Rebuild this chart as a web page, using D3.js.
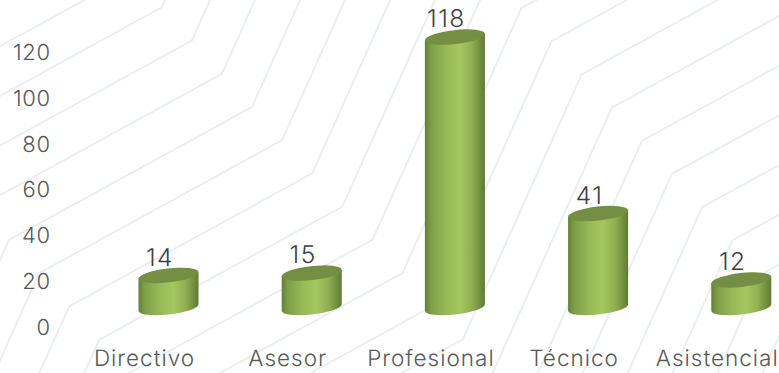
<!DOCTYPE html>
<html>
<head>
<meta charset="utf-8">
<style>
  html, body { margin: 0; padding: 0; background: #fff; }
  svg { display: block; }
  text { font-family: "Inter", "Open Sans", sans-serif; font-weight: 300; text-rendering: geometricPrecision; }
  .labels { opacity: 0.995; }
</style>
<script src="https://cdn.jsdelivr.net/npm/d3@7/dist/d3.min.js"></script>
</head>
<body>
<svg id="chart" width="779" height="373"></svg>
<script>
const categories = ["Directivo", "Asesor", "Profesional", "Técnico", "Asistencial"];
const counts = [14, 15, 118, 41, 12];
const yTicks = [0, 20, 40, 60, 80, 100, 120];

const svg = d3.select("#chart");

// Plot geometry. The floor of the 3D plot sits up and to the right of the axes.
const depth = { x: 24.5, y: -19.5 };
const x = d3.scaleBand().domain(categories).range([72.4, 788.4]);
const y = d3.scaleLinear().domain([0, 120]).range([327, 52]);

// Cylinder cross-section: a slightly tilted ellipse.
const rxAxis = 30.2, ryAxis = 7, tiltDeg = -6.5;
const tilt = tiltDeg * Math.PI / 180;
const halfW = Math.sqrt((rxAxis * Math.cos(tilt)) ** 2 + (ryAxis * Math.sin(tilt)) ** 2);
const edgeDy = (rxAxis * rxAxis - ryAxis * ryAxis) * Math.sin(tilt) * Math.cos(tilt) / halfW;

const defs = svg.append("defs");
const side = defs.append("linearGradient").attr("id", "side");
[[0, "#647f38"], [0.1, "#7f9d47"], [0.35, "#97b957"], [0.58, "#a4c760"], [0.78, "#90af51"], [0.93, "#6f8c3e"], [1, "#5f7a34"]]
  .forEach(([o, c]) => side.append("stop").attr("offset", o).attr("stop-color", c));

// Background pattern: repeated zig-zag rules running to the upper right.
const ruleStep = [30.1, 33.2];
const rulePath = k => {
  const cx = 9 + ruleStep[0] * k, cy = 240 + ruleStep[1] * k;
  return d3.line()([
    [cx - 362, cy + 398], [cx - 119, cy + 265], [cx, cy],
    [cx + 243, cy - 133], [cx + 362, cy - 398], [cx + 605, cy - 531]
  ]);
};
svg.append("g").selectAll("path")
  .data(d3.range(-6, 26))
  .join("path")
  .attr("d", rulePath)
  .attr("fill", "none")
  .attr("stroke", "#e9edf2")
  .attr("stroke-width", 1.8);

// Value axis labels
svg.append("g").attr("class", "labels").selectAll("text")
  .data(yTicks)
  .join("text")
  .attr("x", 50.6)
  .attr("y", d => y(d))
  .attr("dy", "0.36em")
  .attr("text-anchor", "end")
  .attr("fill", "#595959")
  .attr("font-size", 22)
  .attr("letter-spacing", 0.6)
  .text(d => d);

// Category labels
svg.append("g").attr("class", "labels").selectAll("text")
  .data(categories)
  .join("text")
  .attr("x", d => x(d) + x.bandwidth() / 2 + 0.5)
  .attr("y", 366)
  .attr("text-anchor", "middle")
  .attr("fill", "#595959")
  .attr("font-size", 22.5)
  .attr("letter-spacing", 1)
  .text(d => d);

// Cylinders
const rows = categories.map((c, i) => ({ c, v: counts[i] }));
const bars = svg.append("g").selectAll("g")
  .data(rows)
  .join("g")
  .attr("transform", d => `translate(${x(d.c) + x.bandwidth() / 2 + depth.x},0)`);

const floorY = y(0) + depth.y;
bars.append("path")
  .attr("fill", "url(#side)")
  .attr("d", d => {
    const top = y(d.v) + depth.y;
    return `M${-halfW},${top - edgeDy}L${-halfW},${floorY - edgeDy}` +
      `A${rxAxis},${ryAxis} ${tiltDeg} 0 0 ${halfW},${floorY + edgeDy}` +
      `L${halfW},${top + edgeDy}Z`;
  });
bars.append("ellipse")
  .attr("rx", rxAxis)
  .attr("ry", ryAxis)
  .attr("transform", d => `translate(0,${y(d.v) + depth.y}) rotate(${tiltDeg})`)
  .attr("fill", "#748f44");

// Value labels above each cylinder
bars.append("text")
  .attr("class", "labels")
  .attr("x", -8.5)
  .attr("y", d => y(d.v) + depth.y - 18.5)
  .attr("dy", "0.36em")
  .attr("text-anchor", "middle")
  .attr("fill", "#404040")
  .attr("font-size", 24.5)
  .attr("letter-spacing", 1.5)
  .text(d => d.v);
</script>
</body>
</html>
